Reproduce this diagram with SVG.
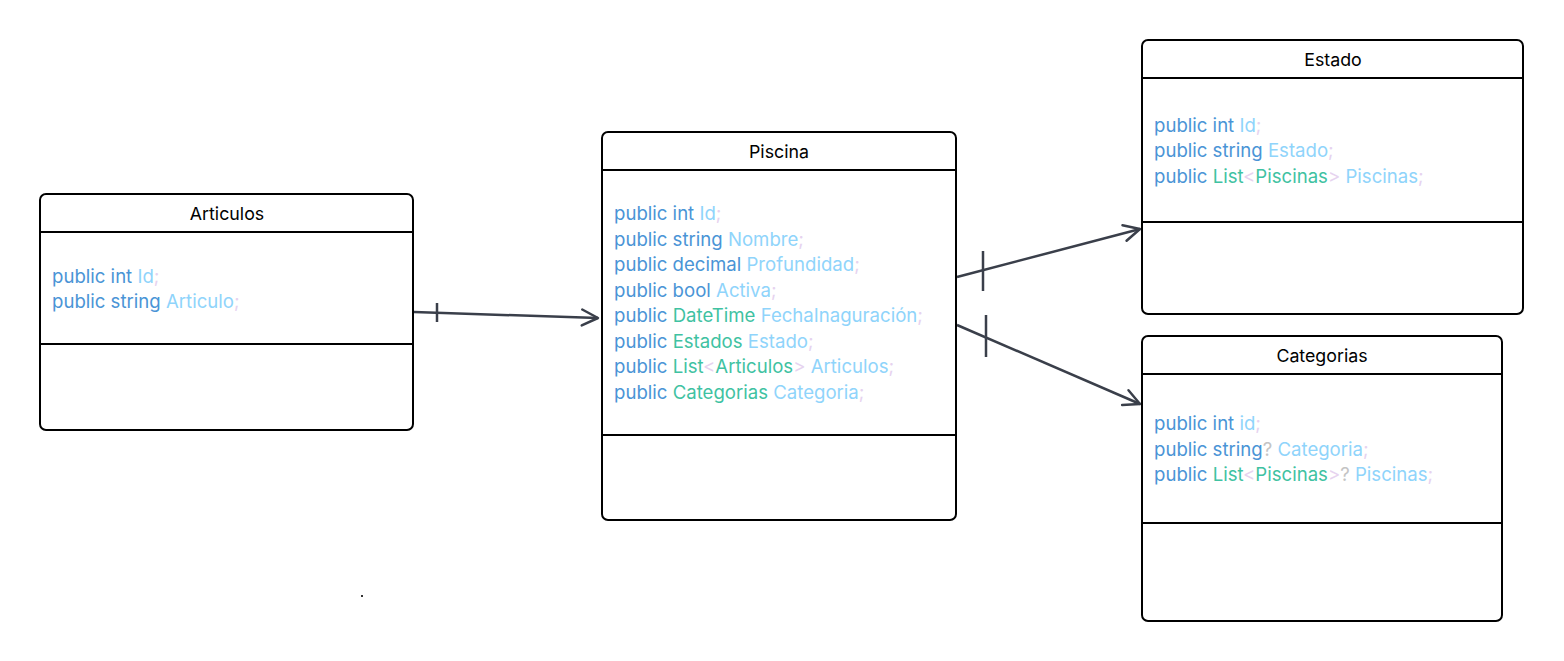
<svg xmlns="http://www.w3.org/2000/svg" width="1564" height="661" viewBox="0 0 1564 661">
<style>
.box{fill:#fff;stroke:#000;stroke-width:2}
.sep{stroke:#000;stroke-width:2}
.title{font-family:Inter,"Liberation Sans",sans-serif;font-size:17.8px;fill:#000;text-anchor:middle}
.code{font-family:Inter,"Liberation Sans",sans-serif;font-size:18.6px;fill:#4a94d6}
.n{fill:#8fd4fb}
.t{fill:#3fc2a2}
.p{fill:#e6d3ef}
.q{fill:#c4c4c4}
.conn{stroke:#3a3f4a;stroke-width:2.5;fill:none}
</style>
<defs>
<marker id="arr" viewBox="0 0 20 20" refX="18" refY="10" markerWidth="20" markerHeight="20" markerUnits="userSpaceOnUse" orient="auto">
<path d="M2,2 L18,10 L2,18" fill="none" stroke="#3a3f4a" stroke-width="2.5" stroke-linecap="round" stroke-linejoin="round"/>
</marker>
</defs>
<rect width="1564" height="661" fill="#fff"/>
<g id="connectors">
<path class="conn" d="M414,312 L598,318" marker-end="url(#arr)"/>
<line class="conn" x1="437" y1="303" x2="437" y2="322"/>
<path class="conn" d="M957,277 L1140,229" marker-end="url(#arr)"/>
<line class="conn" x1="983" y1="251" x2="983" y2="291"/>
<path class="conn" d="M957,325 L1140,404" marker-end="url(#arr)"/>
<line class="conn" x1="986" y1="315" x2="986" y2="357"/>
</g>
<g id="articulos">
<rect class="box" x="40" y="194" width="373" height="236" rx="6"/>
<line class="sep" x1="40" y1="232" x2="413" y2="232"/>
<line class="sep" x1="40" y1="344" x2="413" y2="344"/>
<text class="title" x="227" y="220">Articulos</text>
<text class="code" x="52" y="283">public int <tspan class="n">Id</tspan><tspan class="p">;</tspan></text>
<text class="code" x="52" y="308">public string <tspan class="n">Articulo</tspan><tspan class="p">;</tspan></text>
</g>
<g id="piscina">
<rect class="box" x="602" y="132" width="354" height="388" rx="6"/>
<line class="sep" x1="602" y1="170" x2="956" y2="170"/>
<line class="sep" x1="602" y1="435" x2="956" y2="435"/>
<text class="title" x="779" y="158">Piscina</text>
<text class="code" x="614" y="220">public int <tspan class="n">Id</tspan><tspan class="p">;</tspan></text>
<text class="code" x="614" y="246">public string <tspan class="n">Nombre</tspan><tspan class="p">;</tspan></text>
<text class="code" x="614" y="271">public decimal <tspan class="n">Profundidad</tspan><tspan class="p">;</tspan></text>
<text class="code" x="614" y="297">public bool <tspan class="n">Activa</tspan><tspan class="p">;</tspan></text>
<text class="code" x="614" y="322">public <tspan class="t">DateTime</tspan> <tspan class="n">FechaInaguración</tspan><tspan class="p">;</tspan></text>
<text class="code" x="614" y="348">public <tspan class="t">Estados</tspan> <tspan class="n">Estado</tspan><tspan class="p">;</tspan></text>
<text class="code" x="614" y="373">public <tspan class="t">List</tspan><tspan class="p">&lt;</tspan><tspan class="t">Articulos</tspan><tspan class="p">&gt;</tspan> <tspan class="n">Articulos</tspan><tspan class="p">;</tspan></text>
<text class="code" x="614" y="399">public <tspan class="t">Categorias</tspan> <tspan class="n">Categoria</tspan><tspan class="p">;</tspan></text>
</g>
<g id="estado">
<rect class="box" x="1142" y="40" width="381" height="274" rx="6"/>
<line class="sep" x1="1142" y1="78" x2="1523" y2="78"/>
<line class="sep" x1="1142" y1="222" x2="1523" y2="222"/>
<text class="title" x="1333" y="66">Estado</text>
<text class="code" x="1154" y="132">public int <tspan class="n">Id</tspan><tspan class="p">;</tspan></text>
<text class="code" x="1154" y="157">public string <tspan class="n">Estado</tspan><tspan class="p">;</tspan></text>
<text class="code" x="1154" y="183">public <tspan class="t">List</tspan><tspan class="p">&lt;</tspan><tspan class="t">Piscinas</tspan><tspan class="p">&gt;</tspan> <tspan class="n">Piscinas</tspan><tspan class="p">;</tspan></text>
</g>
<g id="categorias">
<rect class="box" x="1142" y="336" width="360" height="285" rx="6"/>
<line class="sep" x1="1142" y1="374" x2="1502" y2="374"/>
<line class="sep" x1="1142" y1="523" x2="1502" y2="523"/>
<text class="title" x="1322" y="362">Categorias</text>
<text class="code" x="1154" y="430">public int <tspan class="n">id</tspan><tspan class="p">;</tspan></text>
<text class="code" x="1154" y="456">public string<tspan class="q">?</tspan> <tspan class="n">Categoria</tspan><tspan class="p">;</tspan></text>
<text class="code" x="1154" y="481">public <tspan class="t">List</tspan><tspan class="p">&lt;</tspan><tspan class="t">Piscinas</tspan><tspan class="p">&gt;</tspan><tspan class="q">?</tspan> <tspan class="n">Piscinas</tspan><tspan class="p">;</tspan></text>
</g>
<rect x="361" y="595" width="2" height="2" fill="#333"/>
</svg>
